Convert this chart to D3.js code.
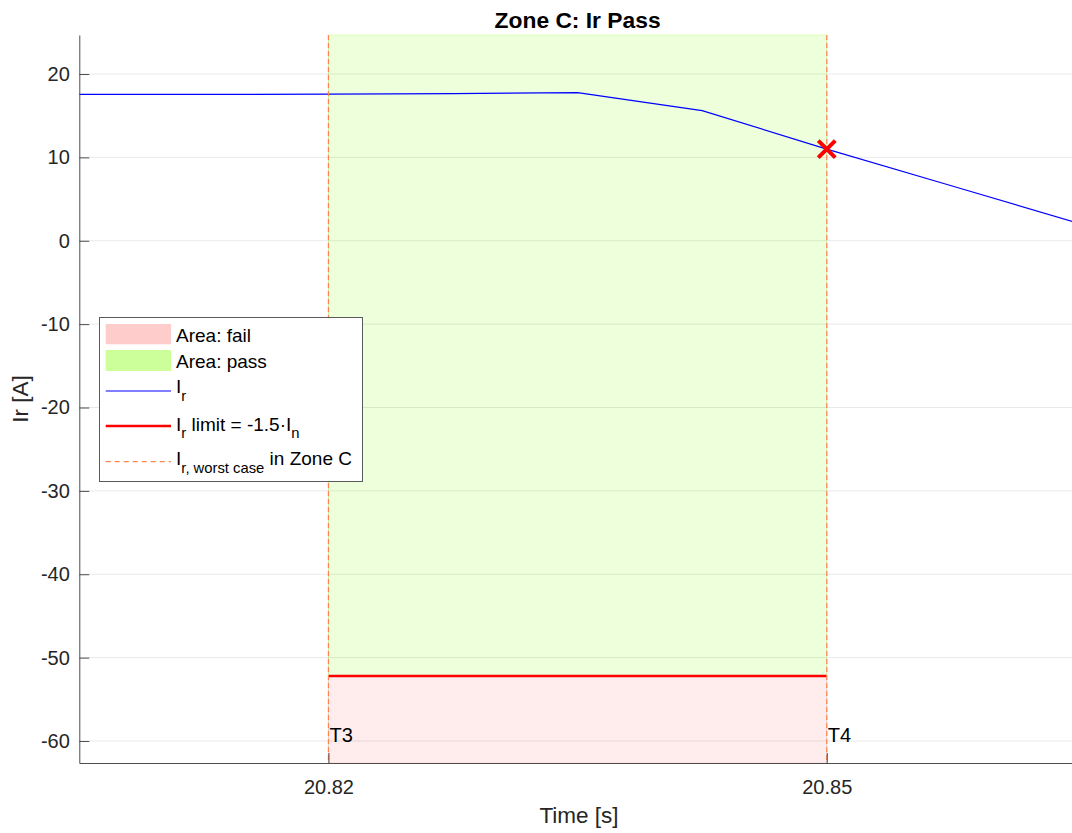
<!DOCTYPE html>
<html>
<head>
<meta charset="utf-8">
<script src="https://cdn.jsdelivr.net/npm/d3@7"></script>
<style>
  html, body { margin: 0; padding: 0; background: #fff; }
  svg { display: block; font-family: "Liberation Sans", Arial, Helvetica, sans-serif; }
</style>
</head>
<body>
<svg id="chart" width="1072" height="833"></svg>
<script>
// Sampled current Ir over time
const timeS = [20.805, 20.8125, 20.82, 20.8275, 20.835, 20.8425, 20.85, 20.8575, 20.865];
const irA   = [17.55, 17.56, 17.58, 17.66, 17.76, 15.6, 11.0, 6.6, 2.2];

// Zone C window and limit
const zoneStart = 20.82;
const zoneEnd = 20.85;
const zoneLabels = ["T3", "T4"];
const irLimit = -52.2;          // -1.5·In
const worstCaseTime = 20.85;
const worstCaseIr = 11.0;

// Axes
const xDomain = [20.805, 20.865];
const yDomain = [-62.64, 24.68];
const xTicks = [20.82, 20.85];
const xTickLabels = ["20.82", "20.85"];
const yTicks = [-60, -50, -40, -30, -20, -10, 0, 10, 20];

const legendLabels = ["Area: fail", "Area: pass"];

const svg = d3.select("#chart");
const pLeft = 79.3, pRight = 1075.9, pTop = 35, pBottom = 763;

const x = d3.scaleLinear().domain(xDomain).range([pLeft, pRight]);
const y = d3.scaleLinear().domain(yDomain).range([pBottom, pTop]);

const passFill = "#ccff99", failFill = "#ffcccc";
const dashColor = "#ff8450";

// pass / fail areas
svg.append("rect")
  .attr("x", x(zoneStart)).attr("y", y(yDomain[1]))
  .attr("width", x(zoneEnd) - x(zoneStart)).attr("height", y(irLimit) - y(yDomain[1]))
  .attr("fill", passFill).attr("fill-opacity", 0.35)
  .attr("stroke", passFill).attr("stroke-opacity", 0.6).attr("stroke-width", 1);
svg.append("rect")
  .attr("x", x(zoneStart)).attr("y", y(irLimit))
  .attr("width", x(zoneEnd) - x(zoneStart)).attr("height", y(yDomain[0]) - y(irLimit))
  .attr("fill", failFill).attr("fill-opacity", 0.35)
  .attr("stroke", failFill).attr("stroke-opacity", 0.6).attr("stroke-width", 1);

// grid
const grid = svg.append("g").attr("stroke", "#262626").attr("stroke-opacity", 0.1).attr("stroke-width", 1);
yTicks.forEach(v => grid.append("line")
  .attr("x1", pLeft).attr("x2", pRight).attr("y1", y(v)).attr("y2", y(v)));
xTicks.forEach(v => grid.append("line")
  .attr("x1", x(v)).attr("x2", x(v)).attr("y1", pTop).attr("y2", pBottom));

// Ir curve
const line = d3.line().x((d, i) => x(timeS[i])).y(d => y(d));
svg.append("path").datum(irA)
  .attr("d", line).attr("fill", "none")
  .attr("stroke", "#0000ff").attr("stroke-width", 1.2);

// limit line
svg.append("line")
  .attr("x1", x(zoneStart)).attr("x2", x(zoneEnd))
  .attr("y1", y(irLimit)).attr("y2", y(irLimit))
  .attr("stroke", "#ff0000").attr("stroke-width", 2.5);

// zone boundaries
[zoneStart, zoneEnd].forEach(t => svg.append("line")
  .attr("x1", x(t)).attr("x2", x(t)).attr("y1", pTop).attr("y2", pBottom)
  .attr("stroke", dashColor).attr("stroke-width", 1.2).attr("stroke-dasharray", "5,3"));

// worst-case marker
const mx = x(worstCaseTime), my = y(worstCaseIr), ms = 8.5;
svg.append("path")
  .attr("d", `M${mx - ms},${my - ms}L${mx + ms},${my + ms}M${mx - ms},${my + ms}L${mx + ms},${my - ms}`)
  .attr("stroke", "#ff0000").attr("stroke-width", 4).attr("fill", "none");

// zone labels
[zoneStart, zoneEnd].forEach((t, i) => svg.append("text")
  .attr("x", x(t) + 1).attr("y", y(-60) + 1)
  .attr("font-size", 20).attr("fill", "#000").text(zoneLabels[i]));

// axes
const axisColor = "#4d4d4d";
const yAxis = svg.append("g").attr("transform", `translate(${pLeft},0)`)
  .call(d3.axisLeft(y).tickValues(yTicks).tickFormat(d => String(d))
    .tickSizeInner(-10).tickSizeOuter(0).tickPadding(9.5));
const xAxis = svg.append("g").attr("transform", `translate(0,${pBottom})`)
  .call(d3.axisBottom(x).tickValues(xTicks).tickFormat((d, i) => xTickLabels[i])
    .tickSizeInner(-10).tickSizeOuter(0).tickPadding(17));
[yAxis, xAxis].forEach(g => {
  g.select(".domain").attr("stroke", axisColor);
  g.selectAll(".tick line").attr("stroke", axisColor);
  g.selectAll(".tick text").attr("fill", "#262626").attr("font-size", 20)
    .attr("font-family", "'Liberation Sans', Arial, Helvetica, sans-serif");
});

// title and axis labels
svg.append("text").attr("x", (pLeft + pRight) / 2).attr("y", 28)
  .attr("text-anchor", "middle").attr("font-size", 22.8).attr("font-weight", "bold")
  .attr("fill", "#000").text("Zone C: Ir Pass");
svg.append("text").attr("x", 579).attr("y", 823)
  .attr("text-anchor", "middle").attr("font-size", 22.5).attr("fill", "#262626").text("Time [s]");
svg.append("text").attr("transform", "translate(28,399) rotate(-90)")
  .attr("text-anchor", "middle").attr("font-size", 22.5).attr("fill", "#262626").text("Ir [A]");

// legend
const lg = svg.append("g");
lg.append("rect").attr("x", 99.5).attr("y", 317.5).attr("width", 263).attr("height", 164)
  .attr("fill", "#fff").attr("stroke", "#5a5a5a").attr("stroke-width", 1);
const sx0 = 105.7, sx1 = 171, tx = 176, fs = 19, sfs = 14.8;
lg.append("rect").attr("x", sx0).attr("y", 324).attr("width", sx1 - sx0).attr("height", 20.3).attr("fill", failFill);
lg.append("rect").attr("x", sx0).attr("y", 350).attr("width", sx1 - sx0).attr("height", 21).attr("fill", passFill);
lg.append("line").attr("x1", sx0).attr("x2", sx1).attr("y1", 391).attr("y2", 391)
  .attr("stroke", "#0000ff").attr("stroke-width", 1.2);
lg.append("line").attr("x1", sx0).attr("x2", sx1).attr("y1", 426).attr("y2", 426)
  .attr("stroke", "#ff0000").attr("stroke-width", 2.5);
lg.append("line").attr("x1", sx0).attr("x2", sx1).attr("y1", 461.7).attr("y2", 461.7)
  .attr("stroke", dashColor).attr("stroke-width", 1.2).attr("stroke-dasharray", "5,4");

const lt = (yb) => lg.append("text").attr("x", tx).attr("y", yb).attr("font-size", fs).attr("fill", "#000");
lt(342).text(legendLabels[0]);
lt(368.3).text(legendLabels[1]);
// text with subscripts: each part is [text, isSubscript]
function withSub(t, parts) {
  let shifted = false;
  parts.forEach(([txt, sub]) => {
    const s = t.append("tspan").text(txt);
    if (sub && !shifted) { s.attr("font-size", sfs).attr("dy", 7.5); shifted = true; }
    else if (sub) s.attr("font-size", sfs);
    else if (shifted) { s.attr("dy", -7.5); shifted = false; }
  });
}
withSub(lt(393), [["I"], ["r", true]]);
withSub(lt(430.7), [["I"], ["r", true], [" limit = -1.5·I"], ["n", true]]);
withSub(lt(465), [["I"], ["r, worst case", true], [" in Zone C"]]);
</script>
</body>
</html>
